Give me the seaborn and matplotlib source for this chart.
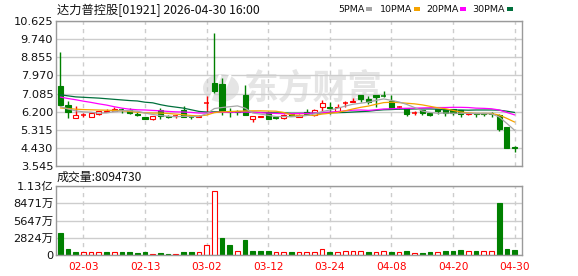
import numpy as np
import pandas as pd
import matplotlib
matplotlib.use("Agg")
import matplotlib.pyplot as plt
import seaborn as sns
from matplotlib.patches import Rectangle, Ellipse
from matplotlib.lines import Line2D

# ---------------- data ----------------
title = "达力普控股[01921] 2026-04-30 16:00"
dates = ["01-29", "01-30", "02-02", "02-03", "02-04", "02-05", "02-06", "02-09", "02-10", "02-11",
         "02-12", "02-13", "02-16", "02-20", "02-23", "02-24", "02-25", "02-26", "02-27", "03-02",
         "03-03", "03-04", "03-05", "03-06", "03-09", "03-10", "03-11", "03-12", "03-13", "03-16",
         "03-17", "03-18", "03-19", "03-20", "03-23", "03-24", "03-25", "03-26", "03-27", "03-30",
         "03-31", "04-01", "04-02", "04-08", "04-09", "04-10", "04-13", "04-14", "04-15", "04-16",
         "04-17", "04-20", "04-21", "04-22", "04-23", "04-24", "04-27", "04-28", "04-29", "04-30"]
opens = [7.46, 6.53, 5.87, 6.04, 5.94, 6.08, 6.19, 6.23, 6.29, 6.29,
         6.10, 5.95, 5.85, 6.29, 5.99, 5.96, 6.27, 5.96, 5.94, 6.61,
         7.60, 7.55, 6.24, 6.24, 7.02, 5.85, 5.94, 6.19, 5.94, 5.87,
         6.06, 5.95, 6.16, 6.02, 6.42, 6.43, 6.24, 6.60, 6.66, 7.00,
         6.82, 7.02, 6.98, 6.70, 6.41, 6.37, 6.12, 6.29, 6.13, 6.32,
         6.32, 6.34, 6.29, 6.07, 6.13, 6.12, 6.11, 6.02, 5.43, 4.45]
highs = [9.11, 6.70, 6.47, 6.11, 6.11, 6.25, 6.34, 6.42, 6.39, 6.37,
         6.16, 5.95, 6.01, 6.36, 6.03, 6.05, 6.47, 6.05, 6.02, 6.96,
         10.05, 7.83, 6.37, 6.29, 7.51, 6.01, 6.00, 6.24, 5.96, 6.10,
         6.12, 6.07, 6.32, 6.32, 6.78, 6.65, 6.57, 6.70, 6.86, 7.00,
         6.94, 7.02, 7.21, 7.02, 6.49, 6.37, 6.24, 6.29, 6.13, 6.32,
         6.32, 6.34, 6.29, 6.12, 6.13, 6.14, 6.16, 6.08, 5.43, 4.51]
lows = [6.49, 5.87, 5.87, 5.95, 5.94, 6.02, 6.18, 6.23, 6.13, 6.08,
        5.97, 5.85, 5.77, 5.85, 5.87, 5.87, 5.95, 5.85, 5.92, 6.10,
        7.13, 6.05, 5.92, 6.02, 6.05, 5.68, 5.92, 5.84, 5.84, 5.84,
        5.99, 5.95, 6.05, 5.99, 6.21, 6.10, 6.21, 6.45, 6.65, 6.65,
        6.58, 6.42, 6.89, 6.32, 6.32, 6.00, 6.02, 6.02, 5.97, 6.08,
        5.97, 6.02, 5.94, 6.05, 5.94, 5.97, 5.94, 5.24, 4.44, 4.22]
closes = [6.50, 6.16, 6.05, 6.06, 6.11, 6.25, 6.23, 6.32, 6.27, 6.15,
          6.05, 5.85, 6.01, 5.99, 5.94, 5.97, 5.96, 5.95, 5.99, 6.63,
          7.21, 6.21, 6.16, 6.20, 6.05, 6.01, 5.98, 5.85, 5.87, 6.05,
          6.00, 6.05, 6.08, 6.26, 6.61, 6.40, 6.45, 6.62, 6.74, 6.84,
          6.66, 6.89, 6.97, 6.40, 6.43, 6.06, 6.14, 6.13, 6.05, 6.21,
          6.14, 6.12, 6.10, 6.11, 6.08, 6.09, 6.10, 5.37, 4.44, 4.42]
# volume in 万 shares
volumes = [3658, 983, 491, 437, 437, 437, 491, 437, 491, 491,
           328, 491, 164, 328, 164, 164, 491, 491, 437, 1583,
           10483, 2785, 1638, 655, 2457, 710, 655, 655, 437, 437,
           491, 437, 437, 437, 928, 491, 437, 655, 655, 600,
           491, 437, 600, 491, 437, 655, 328, 328, 491, 437,
           655, 655, 819, 655, 655, 655, 655, 8518, 983, 809.473]
ma5 = [6.45, 6.33, 6.24, 6.19, 6.17, 6.12, 6.14, 6.20, 6.24, 6.25,
       6.22, 6.13, 6.06, 6.01, 5.97, 5.95, 5.97, 5.96, 5.96, 6.10,
       6.35, 6.40, 6.44, 6.48, 6.37, 6.13, 6.08, 6.02, 5.96, 5.96,
       5.95, 5.97, 6.01, 6.09, 6.20, 6.28, 6.36, 6.47, 6.56, 6.61,
       6.66, 6.75, 6.82, 6.75, 6.67, 6.55, 6.40, 6.23, 6.16, 6.12,
       6.13, 6.12, 6.12, 6.12, 6.10, 6.10, 6.09, 5.94, 5.62, 5.29]
ma10 = [6.38, 6.35, 6.32, 6.30, 6.29, 6.28, 6.27, 6.26, 6.24, 6.21,
        6.17, 6.14, 6.13, 6.13, 6.11, 6.08, 6.05, 6.01, 5.99, 6.03,
        6.15, 6.19, 6.20, 6.22, 6.23, 6.24, 6.24, 6.23, 6.22, 6.16,
        6.04, 6.02, 6.02, 6.02, 6.08, 6.12, 6.16, 6.24, 6.33, 6.41,
        6.47, 6.56, 6.64, 6.66, 6.64, 6.61, 6.58, 6.53, 6.46, 6.39,
        6.34, 6.26, 6.18, 6.14, 6.11, 6.11, 6.11, 6.03, 5.87, 5.69]
ma20 = [6.91, 6.84, 6.78, 6.71, 6.65, 6.58, 6.52, 6.44, 6.37, 6.32,
        6.29, 6.28, 6.26, 6.24, 6.21, 6.19, 6.18, 6.16, 6.13, 6.13,
        6.16, 6.17, 6.17, 6.18, 6.18, 6.17, 6.15, 6.13, 6.11, 6.10,
        6.10, 6.11, 6.11, 6.13, 6.16, 6.18, 6.20, 6.24, 6.27, 6.28,
        6.26, 6.29, 6.33, 6.34, 6.36, 6.36, 6.37, 6.38, 6.39, 6.40,
        6.40, 6.41, 6.41, 6.40, 6.37, 6.36, 6.34, 6.28, 6.16, 6.04]
ma30 = [7.02, 6.97, 6.92, 6.90, 6.88, 6.86, 6.83, 6.80, 6.77, 6.74,
        6.72, 6.66, 6.63, 6.54, 6.47, 6.42, 6.37, 6.29, 6.21, 6.18,
        6.19, 6.19, 6.19, 6.19, 6.18, 6.17, 6.16, 6.15, 6.14, 6.14,
        6.12, 6.12, 6.12, 6.13, 6.14, 6.15, 6.15, 6.16, 6.18, 6.20,
        6.22, 6.26, 6.29, 6.30, 6.32, 6.32, 6.33, 6.33, 6.33, 6.32,
        6.28, 6.28, 6.28, 6.27, 6.28, 6.28, 6.28, 6.27, 6.22, 6.16]
ma_names = ["5PMA", "10PMA", "20PMA", "30PMA"]
price_ticks = [3.545, 4.430, 5.315, 6.200, 7.085, 7.970, 8.855, 9.740, 10.625]
vol_ticks = [0, 2824, 5647, 8471, 11295]
vol_tick_labels = ["0", "2824万", "5647万", "8471万", "1.13亿"]
date_ticks = ["02-03", "02-13", "03-02", "03-12", "03-24", "04-08", "04-20", "04-30"]

# ---------------- style ----------------
sns.set_theme(style="white")
plt.rcParams["font.family"] = ["DejaVu Sans", "Noto Sans CJK SC"]

RED = "#ff0000"
GREEN = "#008000"
GRID = "#cdcdcd"
SPINE = "#9a9a9a"
ma_colors = ["#a6a6a6", "#f5a300", "#ff00ff", "#00703c"]

W, H = 578, 276
fig = plt.figure(figsize=(W / 100, H / 100), dpi=100)
fig.patch.set_facecolor("white")


def add_ax(l, t, r, b):
    return fig.add_axes([l / W, 1 - b / H, (r - l) / W, (b - t) / H])


ax = add_ax(56, 21, 522, 166)
axv = add_ax(56, 186, 522, 255)

n = len(dates)
x = np.arange(n)
xlim = (-0.56, n - 0.04)
tick_idx = [dates.index(d) for d in date_ticks]

for a in (ax, axv):
    a.set_facecolor("white")
    a.set_xlim(*xlim)
    a.set_xticks(tick_idx)
    a.xaxis.grid(True, color=GRID, lw=1, ls=(0, (3, 3)), zorder=0)
    a.yaxis.grid(True, color=GRID, lw=1, ls="-", zorder=0)
    a.set_axisbelow(True)
    for s in a.spines.values():
        s.set_color(SPINE)
        s.set_linewidth(1)
    a.tick_params(length=0, pad=2, labelsize=8.2, colors="#111111")

# ---------------- price panel ----------------
ax.set_ylim(price_ticks[0], price_ticks[-1])
ax.set_yticks(price_ticks)
ax.set_yticklabels([f"{v:.3f}" for v in price_ticks])
ax.set_xticklabels([])

# watermark
ax.text(313 / W, 1 - 88 / H, "东方财富", transform=fig.transFigure, fontsize=25,
        color="#e5e5e5", ha="center", va="center", weight="bold",
        family=["Noto Sans CJK SC"], zorder=0.5)
ax.add_patch(Ellipse((221 / W, 1 - 88 / H), 36 / W, 28 / H, transform=fig.transFigure,
                     facecolor="#e5e5e5", edgecolor="none", zorder=0.5))
for dx in (-6, 4):
    ax.add_artist(Line2D([(221 + dx - 5) / W, (221 + dx + 5) / W],
                         [1 - 100 / H, 1 - 76 / H], transform=fig.transFigure,
                         color="white", lw=2.2, zorder=0.6))

bw = 0.66
for i in range(n):
    o, h, l, c = opens[i], highs[i], lows[i], closes[i]
    col = RED if c > o else GREEN
    ax.vlines(i, l, h, color=col, lw=1, zorder=2)
    if abs(c - o) < 0.025:
        ax.hlines((o + c) / 2, i - bw / 2, i + bw / 2, color=col, lw=1.1, zorder=3)
    else:
        lo, hi = min(o, c), max(o, c)
        face = "white" if c > o else GREEN
        ax.add_patch(Rectangle((i - bw / 2, lo), bw, hi - lo, facecolor=face,
                               edgecolor=col, lw=0.8, zorder=3))

ma_df = pd.DataFrame({"idx": np.tile(x, 4),
                      "value": np.concatenate([ma5, ma10, ma20, ma30]),
                      "ma": np.repeat(ma_names, n)})
sns.lineplot(data=ma_df, x="idx", y="value", hue="ma", hue_order=ma_names[::-1],
             palette=dict(zip(ma_names, ma_colors)), lw=0.9, legend=False,
             ax=ax, zorder=4)
ax.set_xlabel("")
ax.set_ylabel("")
ax.set_xlim(*xlim)

# ---------------- volume panel ----------------
prev = [opens[0]] + closes[:-1]
vol_up = [closes[i] > prev[i] for i in range(n)]
axv.bar(x, volumes, width=0.62,
        color=["white" if u else GREEN for u in vol_up],
        edgecolor=[RED if u else GREEN for u in vol_up], lw=0.8, zorder=2)
axv.set_ylim(vol_ticks[0], vol_ticks[-1])
axv.set_yticks(vol_ticks)
axv.set_yticklabels(vol_tick_labels)
axv.set_xticklabels(date_ticks, color=RED, fontsize=7.6)
axv.tick_params(axis="x", pad=5)
axv.set_xlim(*xlim)

# ---------------- texts ----------------
fig.text(57 / W, 1 - 10 / H, title, fontsize=8.8, va="center", ha="left",
         family=["Noto Sans CJK SC"], color="#111111")
fig.text(57 / W, 1 - 177 / H, f"成交量:{round(volumes[-1] * 10000)}", fontsize=8.6,
         va="center", ha="left", family=["Noto Sans CJK SC"], color="#111111")

renderer = fig.canvas.get_renderer()
leg_x = [338, 380, 426, 472]
for name, col, tx in zip(ma_names, ma_colors, leg_x):
    t = fig.text(tx / W, 1 - 9 / H, name, fontsize=6.8, va="center", ha="left",
                 color="#111111")
    bb = t.get_window_extent(renderer=renderer)
    sx = bb.x1 + 2
    fig.patches.append(Rectangle((sx / W, 1 - 11 / H), 6 / W, 4 / H,
                                 transform=fig.transFigure, facecolor=col,
                                 edgecolor="none"))

fig.savefig("out.png", dpi=100, facecolor="white")
